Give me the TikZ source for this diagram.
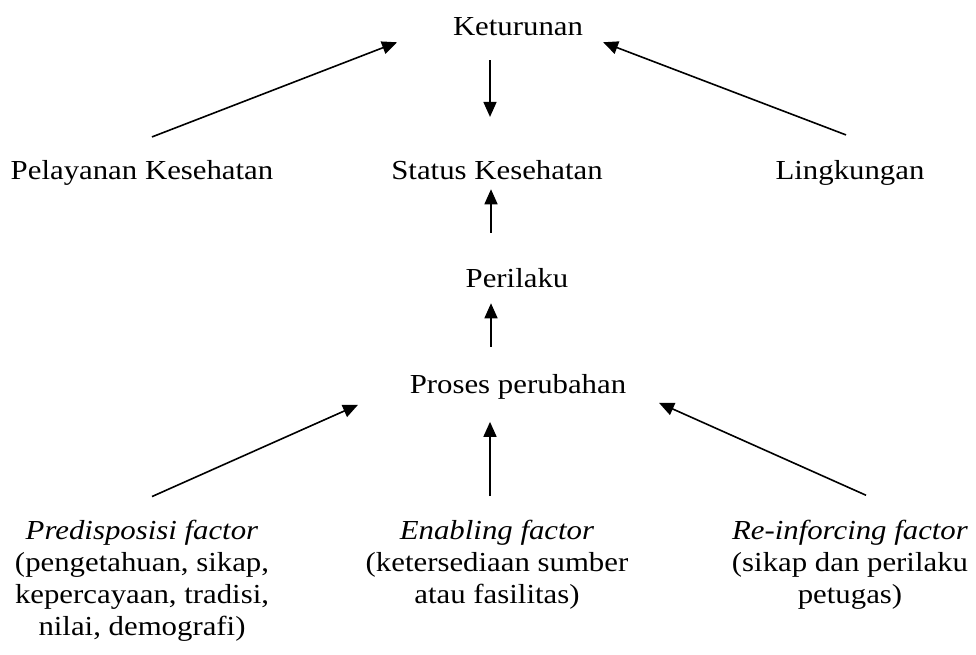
\documentclass[tikz,border=0pt]{standalone}
\usepackage{fontspec}
\setmainfont{Liberation Serif}[FakeStretch=1.12]
\usepackage{tikz}
\usetikzlibrary{arrows.meta,calc}

\begin{document}
\begin{tikzpicture}[x=1pt,y=-1pt,
	every node/.style={font=\fontsize{27.5}{31.7}\selectfont,inner sep=0,outer sep=0,anchor=base,align=center},
	arr/.style={-{Triangle[length=15pt,width=13pt]},line width=1.6pt}]
\useasboundingbox (0,0) rectangle (976,654);
\node (ket) at (518,35) {Keturunan};
\node (pel) at (142,179) {Pelayanan Kesehatan};
\node (stat) at (497,179) {Status Kesehatan};
\node (ling) at (850,179) {Lingkungan};
\node (per) at (517,287) {Perilaku};
\node (pro) at (518,393) {Proses perubahan};
\node (pre) at (142,635) {\textit{Predisposisi factor}\\(pengetahuan, sikap,\\kepercayaan, tradisi,\\nilai, demografi)};
\node (ena) at (497,603) {\textit{Enabling factor}\\(ketersediaan sumber\\atau fasilitas)};
\node (rei) at (850,603) {\textit{Re-inforcing factor}\\(sikap dan perilaku\\petugas)};

\draw[arr] ($(pel.north)+(10,-23)$) -- ($(ket.south)+(-121,7)$);
\draw[arr] ($(ling.north)+(-4,-25)$) -- ($(ket.south)+(85,7)$);
\draw[arr] ($(ket.south)+(-28,25)$) -- ($(stat.north)+(-7,-43)$);
\draw[arr] ($(per.north)+(-26,-35)$) -- ($(stat.south)+(-6,10)$);
\draw[arr] ($(pro.north)+(-27,-27)$) -- ($(per.south)+(-26,16)$);
\draw[arr] ($(pre.north)+(10,-24)$) -- ($(pro.south)+(-160,6)$);
\draw[arr] ($(ena.north)+(-7,-24)$) -- ($(pro.south)+(-28,23)$);
\draw[arr] ($(rei.north)+(16,-25)$) -- ($(pro.south)+(141,4)$);
\end{tikzpicture}
\end{document}
